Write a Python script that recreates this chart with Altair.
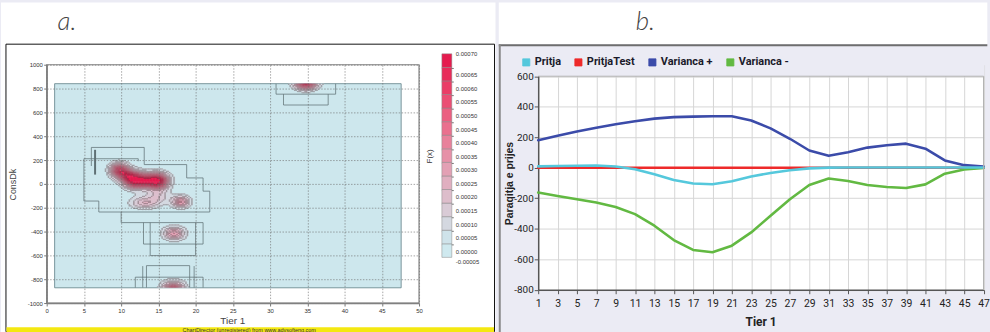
import altair as alt
import numpy as np
import pandas as pd

SANS = "Liberation Sans, Arial, sans-serif"
NARROW = "Roboto, Liberation Sans, sans-serif"

# ---------------- panel a : density blobs ----------------
blob_x    = [9.7, 10.8, 12.0, 13.6, 14.9, 13.2, 15.0, 18.0, 17.1, 17.0, 34.8]
blob_y    = [115, 75, 30, 28, 25, -158, -95, -150, -415, -890, 855]
blob_peak = [0.00050, 0.00030, 0.00075, 0.00022, 0.00072, 0.00020, 0.00012,
             0.00032, 0.00030, 0.00048, 0.00062]
blob_sx   = [0.85, 0.8, 1.1, 0.8, 1.0, 1.4, 1.1, 0.85, 1.0, 1.05, 1.05]
blob_sy   = [42, 38, 45, 35, 45, 38, 42, 36, 40, 48, 42]

region_x = [1.07, 47.6]
region_y = [-872, 841]

level_colors = ["#cfe9ef", "#cfe3ea", "#d4d8e0", "#d9cbd6", "#ddbdcb", "#e0afc0",
                "#e3a0b4", "#e691a8", "#e8819b", "#ea708e", "#eb5f81", "#eb4e74",
                "#ea3d67", "#e82c5a", "#e51b4e"]
level_min, level_max, level_step = -0.00005, 0.00070, 0.00005
top_level_label = "0.00070"

# step-shaped grid outlines (data coordinates)
outline_id = ([1] * 16 + [2] * 2 + [3] * 6 + [4] * 4 + [5] * 4 + [6] * 4 +
              [7] * 2 + [8] * 2 + [9] * 4 + [10] * 4)
outline_x = [6.0, 6.0, 13.1, 13.1, 18.8, 18.8, 21.0, 21.0, 21.9, 21.9, 7.0, 7.0, 5.0, 5.0, 12.3, 12.3,
             6.5, 6.5,
             10.0, 10.0, 21.0, 21.0, 13.0, 13.0,
             13.9, 13.9, 20.0, 20.0,
             11.9, 11.9, 21.0, 21.0,
             13.4, 13.4, 19.2, 19.2,
             12.9, 12.9,
             19.8, 19.8,
             30.8, 30.8, 38.8, 38.8,
             31.8, 31.8, 37.8, 37.8]
outline_y = [150, 306, 306, 162, 162, 50, 50, -61, -61, -236, -236, -144, -144, 211, 211, 190,
             286, 78,
             -236, -325, -325, -505, -505, -325,
             -325, -602, -602, -325,
             -870, -783, -783, -870,
             -870, -686, -686, -870,
             -870, -690,
             -870, -690,
             840, 753, 753, 840,
             753, 662, 662, 753]
outline_w = {2: 2.0}

# ---------------- panel b : series ----------------
tier = [1, 3, 5, 7, 9, 11, 13, 15, 17, 19, 21, 23, 25, 27, 29, 31, 33, 35, 37, 39, 41, 43, 45, 47]
pritja = [9, 11, 13, 15, 8, -10, -42, -80, -103, -108, -88, -57, -34, -16, -4, 1, 2, 2, 2, 2, 2, 2, 2, 2]
pritja_test = [0, 0, 0, 0, 0, 0, 0, 0, 0, 0, 0, 0, 0, 0, 0, 0, 0, 0, 0, 0, 0, 0, 0, 0]
var_plus = [180, 210, 238, 262, 285, 305, 322, 332, 335, 338, 338, 310, 258, 190, 113, 78,
            102, 132, 148, 158, 125, 48, 17, 8]
var_minus = [-163, -185, -207, -228, -257, -304, -380, -474, -539, -554, -511, -424, -315,
             -207, -113, -70, -87, -113, -126, -133, -109, -39, -11, -2]
series_names = ["Pritja", "PritjaTest", "Varianca +", "Varianca -"]
series_colors = ["#55c8dc", "#ee2a2a", "#3b4ba9", "#62b942"]

# ======================= panel a construction =======================
WA, HA = 375, 240
DX, DY = 0.2, 10.0
gx = np.arange(4.0, 40.0 + 1e-9, DX)
gy = np.arange(-870.0, 840.0 - 1e-9, DY)
X, Y = np.meshgrid(gx + DX / 2, gy + DY / 2)
V = np.zeros_like(X)
for bx, by, bp, sx, sy in zip(blob_x, blob_y, blob_peak, blob_sx, blob_sy):
    V += bp * np.exp(-0.5 * (((X - bx) / sx) ** 2 + ((Y - by) / sy) ** 2))
L = np.minimum(np.floor(V / level_step).astype(int), 13)
mask = V >= level_step
edge = np.zeros_like(mask)
edge[1:, :] |= L[1:, :] > L[:-1, :]
edge[:-1, :] |= L[:-1, :] > L[1:, :]
edge[:, 1:] |= L[:, 1:] > L[:, :-1]
edge[:, :-1] |= L[:, :-1] > L[:, 1:]
edge &= mask

ii, jj = np.nonzero(mask)
cells = pd.DataFrame({
    "x0": np.round(gx[jj], 3), "x1": np.round(gx[jj] + DX * 1.3, 3),
    "y0": np.round(gy[ii], 1), "y1": np.round(np.minimum(gy[ii] + DY * 1.3, 841), 1),
    "v": np.round(V[ii, jj], 7)})
ei, ej = np.nonzero(edge)
edges = pd.DataFrame({"x0": np.round(gx[ej], 3), "x1": np.round(gx[ej] + DX, 3),
                      "y0": np.round(gy[ei], 1), "y1": np.round(gy[ei] + DY, 1)})

outl = pd.DataFrame({"id": outline_id, "x": outline_x, "y": outline_y})
outl["i"] = range(len(outl))
outl["w"] = [outline_w.get(k, 0.75) for k in outline_id]

sxA = alt.Scale(domain=[0, 50], nice=False, zero=False)
syA = alt.Scale(domain=[-1000, 1000], nice=False, zero=False)
axAx = alt.Axis(values=list(range(0, 51, 5)), title="Tier 1", labelFont=SANS, labelFontSize=6,
                labelColor="#333", tickSize=3, tickColor="#777", domainColor="#808080",
                domainWidth=1.5, grid=True, gridColor="#6a6a6a", gridDash=[1.5, 1.5],
                gridWidth=0.6, titleFont=SANS, titleFontSize=10, titleFontWeight="normal",
                titleColor="#444", titleX=187, titleY=17.3, titleBaseline="middle",
                labelPadding=1.5, zindex=1, labelFlush=False)
axAy = alt.Axis(values=list(range(-1000, 1001, 200)), title="ConsDk",
                labelExpr="toString(datum.value)", labelFont=SANS, labelFontSize=6,
                labelColor="#333", tickSize=3, tickColor="#777", domainColor="#808080",
                domainWidth=1.5, grid=True, gridColor="#6a6a6a", gridDash=[1.5, 1.5],
                gridWidth=0.6, titleFont=SANS, titleFontSize=9, titleFontWeight="normal",
                titleColor="#444", titleX=-34, titleY=120.3, titleBaseline="middle",
                labelPadding=1.3, zindex=1, labelFlush=False)

def XA(f):
    return alt.X(f, type="quantitative", scale=sxA, axis=axAx)

def YA(f):
    return alt.Y(f, type="quantitative", scale=syA, axis=axAy)

one = pd.DataFrame({"k": [0]})
a_bg = alt.Chart(one).mark_rect(fill="white").encode(
    x=alt.value(-46), x2=alt.value(452), y=alt.value(-62.7), y2=alt.value(269.3))
a_frame = alt.Chart(one).mark_rect(fillOpacity=0, stroke="#111", strokeWidth=1).encode(
    x=alt.value(-41), x2=alt.value(451), y=alt.value(-20.7), y2=alt.value(268.8))
a_yellow = alt.Chart(one).mark_rect(fill="#f4e811").encode(
    x=alt.value(-40.5), x2=alt.value(450.5), y=alt.value(264.3), y2=alt.value(269.3))
a_ytext = alt.Chart(one).mark_text(fontSize=5.5, font=SANS, color="#333").encode(
    x=alt.value(204), y=alt.value(267.3),
    text=alt.value("ChartDirector (unregistered) from www.advsofteng.com"))
a_lab = alt.Chart(one).mark_text(fontSize=26, font="Lato", fontStyle="italic", fontWeight=300,
                                 color="#444", align="left", baseline="top").encode(
    x=alt.value(11), y=alt.value(-56.2), text=alt.value("a."))
a_fx = alt.Chart(one).mark_text(fontSize=8, font=SANS, color="#333", angle=270).encode(
    x=alt.value(386), y=alt.value(92.3), text=alt.value("F(x)"))

# colour-bar geometry (legend placement in pixels)
BAR_X, BAR_Y, BAR_LEN = 398, -11.0, 205
n_levels = len(level_colors)
a_toplab = alt.Chart(one).mark_text(fontSize=6, font=SANS, color="#333", align="left",
                                    baseline="middle").encode(
    x=alt.value(BAR_X + 14), y=alt.value(BAR_Y + 0.6), text=alt.value(top_level_label))
bar_ticks = [
    alt.Chart(one).mark_rule(color="#555", strokeWidth=0.8).encode(
        x=alt.value(BAR_X), x2=alt.value(BAR_X + 12),
        y=alt.value(BAR_Y + 1.1 + k * BAR_LEN / n_levels))
    for k in range(1, n_levels)
]

reg = pd.DataFrame({"x0": [region_x[0]], "x1": [region_x[1]], "y0": [region_y[0]], "y1": [region_y[1]]})
a_region = alt.Chart(reg).mark_rect(fill="#cde7ed", stroke="#6d8b92", strokeWidth=0.9).encode(
    x=XA("x0"), x2="x1", y=YA("y0"), y2="y1")

label_expr = ("['', '', isFinite(datum.value) ? "
              "replace(format(datum.value, '.5f'), '\u2212', '-') : '-0.00005']")
a_cells = alt.Chart(cells).mark_rect().encode(
    x=XA("x0"), x2="x1", y=YA("y0"), y2="y1",
    color=alt.Color("v:Q", scale=alt.Scale(type="quantize", domain=[level_min, level_max],
                                           range=level_colors, nice=False, zero=False),
                    legend=alt.Legend(type="gradient", direction="vertical", orient="none",
                                      legendX=BAR_X, legendY=BAR_Y, gradientLength=BAR_LEN,
                                      gradientThickness=10, title=None, labelFont=SANS,
                                      labelFontSize=6, labelColor="#333", labelOffset=4,
                                      padding=0, gradientStrokeColor="#888",
                                      gradientStrokeWidth=0.5, labelOverlap=False,
                                      labelExpr=label_expr)))
a_edges = alt.Chart(edges).mark_rect(color="#3a3a3a", opacity=0.35).encode(
    x=XA("x0"), x2="x1", y=YA("y0"), y2="y1")
a_outl = alt.Chart(outl).mark_line(color="#5f7074").encode(
    x=XA("x"), y=YA("y"), detail="id:N", order="i:Q",
    strokeWidth=alt.StrokeWidth("w:Q", scale=None))
a_plotframe = alt.Chart(one).mark_rect(fillOpacity=0, stroke="#808080", strokeWidth=1.2).encode(
    x=alt.value(0), x2=alt.value(WA), y=alt.value(0), y2=alt.value(HA))

panel_a = alt.layer(a_bg, a_frame, a_yellow, a_ytext, a_lab, a_region, a_cells, a_edges,
                    a_outl, a_plotframe, a_fx, a_toplab, *bar_ticks).properties(width=WA, height=HA)

# ======================= panel b construction =======================
# plot origin shared with panel a (y = 62.7); the value axis starts 11.6 px lower
WB, HB = 448.5, 226.6
STRIP = 11.6
YTOP = 600 + STRIP * 1400 / 215.0
rows = []
for name, vals in [("PritjaTest", pritja_test), ("Varianca -", var_minus),
                   ("Varianca +", var_plus), ("Pritja", pritja)]:
    for t, v in zip(tier, vals):
        rows.append({"tier": t, "value": v, "series": name})
df_b = pd.DataFrame(rows)

sxB = alt.Scale(domain=[1, 47], nice=False, zero=False)
syB = alt.Scale(domain=[-800, YTOP], nice=False, zero=False)
axBx = alt.Axis(values=tier, title="Tier 1", labelFont=NARROW, labelFontSize=10.5,
                labelColor="#222", tickSize=4, tickColor="#555", domainColor="#555",
                domainWidth=1.5, gridColor="#d6d6d6", gridWidth=1, labelPadding=4.5,
                titleFont=NARROW, titleFontSize=12, titleFontWeight="bold", titleColor="#222",
                titleX=224, titleY=31.7, titleBaseline="middle", labelFlush=False,
                labelOverlap=False)
axBy = alt.Axis(values=list(range(-800, 601, 200)), title="Paraqitja e prijes",
                labelExpr="toString(datum.value)", labelFont=NARROW, labelFontSize=10,
                labelColor="#222", tickSize=4, tickColor="#555", domainColor="#555",
                domainWidth=1.5, gridColor="#d6d6d6", gridWidth=1, labelPadding=1,
                titleFont=SANS, titleFontSize=10.5, titleFontWeight="bold", titleColor="#222",
                titleX=-28.7, titleY=119.1, titleBaseline="middle", labelFlush=False)
color_expr = " : ".join(
    f"datum.value === '{n}' ? '{c}'" for n, c in zip(series_names[:-1], series_colors[:-1])
) + f" : '{series_colors[-1]}'"
scB = alt.Scale(domain=series_names, range=series_colors)

b_top = alt.Chart(one).mark_rect(fill="white").encode(
    x=alt.value(-39.7), x2=alt.value(452.3), y=alt.value(-62.7), y2=alt.value(-20.7))
b_topline = alt.Chart(one).mark_rule(color="#6e6e6e", strokeWidth=2).encode(
    x=alt.value(-39.7), x2=alt.value(452.3), y=alt.value(-19.7))
b_leftline = alt.Chart(one).mark_rule(color="#8a8a8a", strokeWidth=2).encode(
    x=alt.value(-38.7), y=alt.value(-20.7), y2=alt.value(269.3))
b_lab = alt.Chart(one).mark_text(fontSize=26, font="Lato", fontStyle="italic", fontWeight=300,
                                 color="#444", align="left", baseline="top").encode(
    x=alt.value(98.3), y=alt.value(-56.2), text=alt.value("b."))
b_cover = alt.Chart(one).mark_rect(fill="#ebebf4").encode(
    x=alt.value(-1), x2=alt.value(WB + 1), y=alt.value(-0.5), y2=alt.value(STRIP))
b_frame_top = alt.Chart(one).mark_rule(color="#b0b0b0", strokeWidth=1).encode(
    x=alt.value(0), x2=alt.value(WB), y=alt.value(STRIP))
b_frame_right = alt.Chart(one).mark_rule(color="#b0b0b0", strokeWidth=1).encode(
    x=alt.value(WB), y=alt.value(STRIP), y2=alt.value(HB))
b_lines = alt.Chart(df_b).mark_line(strokeWidth=2.6, strokeJoin="round", strokeCap="round").encode(
    x=alt.X("tier:Q", scale=sxB, axis=axBx),
    y=alt.Y("value:Q", scale=syB, axis=axBy),
    stroke=alt.Stroke("series:N", scale=scB,
                      legend=alt.Legend(orient="none", legendX=-17.5, legendY=-8.0,
                                        direction="horizontal", columns=4, title=None,
                                        symbolType="square", symbolSize=52,
                                        symbolStrokeWidth=0.8,
                                        symbolFillColor={"expr": color_expr},
                                        labelFont=NARROW, labelFontSize=11,
                                        labelFontWeight="bold", labelColor="#1a1a2a",
                                        labelOffset=3, columnPadding=11.5, padding=0)),
    order="tier:Q")

panel_b = alt.layer(b_top, b_topline, b_leftline, b_lab, b_lines, b_cover, b_frame_top,
                    b_frame_right).properties(width=WB, height=HB)

chart = (alt.hconcat(panel_a, panel_b, spacing=0)
         .resolve_scale(color="independent", fill="independent", stroke="independent",
                        x="independent", y="independent")
         .resolve_legend(color="independent", fill="independent", stroke="independent")
         .properties(background="#ebebf4", padding=0)
         .configure_view(fill="white", stroke="transparent"))

chart.save("out.html", embed_options={"renderer": "svg", "actions": False})
